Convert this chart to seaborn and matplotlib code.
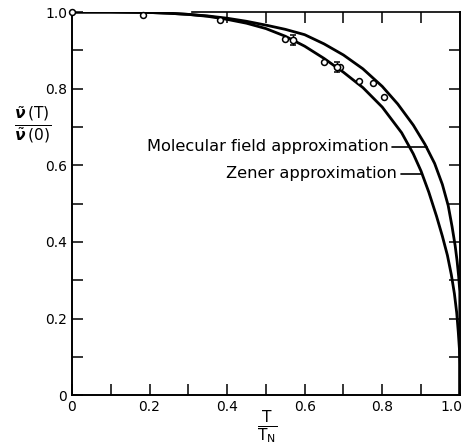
import numpy as np
import pandas as pd
import seaborn as sns
import matplotlib.pyplot as plt
from matplotlib.transforms import ScaledTranslation

# curves
mf_x = [0.0, 0.1, 0.2, 0.25, 0.3, 0.35, 0.4, 0.45, 0.5, 0.55, 0.6, 0.65, 0.7, 0.75,
        0.8, 0.84, 0.88, 0.91, 0.935, 0.955, 0.97, 0.98, 0.988, 0.993, 0.997, 1.0, 1.0]
mf_y = [1.0, 1.0, 0.999, 0.997, 0.994, 0.99, 0.984, 0.976, 0.966, 0.955, 0.941, 0.917,
        0.888, 0.852, 0.806, 0.76, 0.705, 0.655, 0.605, 0.55, 0.495, 0.44, 0.39, 0.35,
        0.31, 0.27, 0.0]
zen_x = [0.0, 0.1, 0.2, 0.25, 0.3, 0.35, 0.4, 0.45, 0.5, 0.55, 0.6, 0.65, 0.7, 0.75,
         0.8, 0.85, 0.88, 0.9, 0.92, 0.94, 0.955, 0.968, 0.978, 0.986, 0.992, 0.996,
         0.999, 1.0, 1.0]
zen_y = [1.0, 1.0, 0.999, 0.997, 0.994, 0.989, 0.981, 0.971, 0.957, 0.937, 0.911,
         0.879, 0.843, 0.803, 0.752, 0.685, 0.63, 0.585, 0.53, 0.467, 0.415, 0.365,
         0.315, 0.265, 0.215, 0.165, 0.12, 0.08, 0.0]

# measured points
pt_x = [0.0, 0.183, 0.381, 0.549, 0.649, 0.691, 0.740, 0.776, 0.804]
pt_y = [1.0, 0.992, 0.979, 0.929, 0.869, 0.856, 0.820, 0.815, 0.778]
err_x = [0.570, 0.683]
err_y = [0.927, 0.856]
err_e = [0.012, 0.013]

tick_vals = [0, 0.2, 0.4, 0.6, 0.8, 1.0]
tick_labels = ['0', '0.2', '0.4', '0.6', '0.8', '1.0']

sns.set_style('ticks', {'text.color': 'black', 'xtick.color': 'black',
                        'ytick.color': 'black', 'axes.edgecolor': 'black',
                        'axes.labelcolor': 'black'})
plt.rcParams['font.family'] = ['DejaVu Sans']
plt.rcParams['mathtext.fontset'] = 'dejavusans'

fig = plt.figure(figsize=(4.64, 4.48), dpi=100)
ax = fig.add_axes([0.155, 0.118, 0.836, 0.855])

curves = pd.concat([
    pd.DataFrame({'x': mf_x, 'y': mf_y, 'c': 'mf'}),
    pd.DataFrame({'x': zen_x, 'y': zen_y, 'c': 'zen'}),
])
sns.lineplot(data=curves, x='x', y='y', units='c', estimator=None, sort=False,
             color='black', lw=2, ax=ax)
sns.scatterplot(x=pt_x, y=pt_y, marker='o', s=18, facecolor='white',
                edgecolor='black', linewidth=1.1, ax=ax, zorder=5, clip_on=False)
ax.errorbar(err_x, err_y, yerr=err_e, fmt='o', ms=4.5, mfc='white', mec='black',
            mew=1.1, ecolor='black', elinewidth=1, capsize=2, zorder=5)

ax.set_xlim(0, 1)
ax.set_ylim(0, 1)
ax.set_xticks(tick_vals)
ax.set_xticklabels(tick_labels)
ax.set_yticks(tick_vals)
ax.set_yticklabels(tick_labels)
ax.set_xticks(np.arange(0.1, 1.0, 0.2), minor=True)
ax.set_yticks(np.arange(0.1, 1.0, 0.2), minor=True)
ax.tick_params(which='both', direction='in', length=8, width=1.1, labelsize=10,
               top=False, right=False, colors='black')
# keep the last x label inside the figure
last = ax.get_xticklabels()[-1]
last.set_transform(last.get_transform() + ScaledTranslation(-6 / 72, 0, fig.dpi_scale_trans))
ax.set_xlabel('')
ax.set_ylabel('')
for s in ['left', 'bottom']:
    ax.spines[s].set_linewidth(1.4)
    ax.spines[s].set_color('black')
ax.spines['top'].set_visible(False)
ax.spines['right'].set_visible(False)

top = ax.secondary_xaxis('top')
top.set_xticks([0.4, 0.5, 0.6, 0.7, 0.8, 0.9])
top.tick_params(direction='in', length=8, width=1.1, labeltop=False, colors='black')
top.spines['top'].set_bounds(0.31, 1.0)
top.spines['top'].set_linewidth(1.2)
top.spines['top'].set_color('black')

right = ax.secondary_yaxis('right')
right.set_yticks([0.1, 0.2, 0.3, 0.4, 0.5, 0.6, 0.7, 0.8, 0.9])
right.tick_params(direction='in', length=8, width=1.1, labelright=False, colors='black')
right.spines['right'].set_linewidth(1.4)
right.spines['right'].set_color('black')

ax.text(0.817, 0.648, 'Molecular field approximation', fontsize=11.7,
        va='center', ha='right', color='black')
ax.plot([0.826, 0.915], [0.648, 0.648], color='black', lw=1.2)
ax.text(0.838, 0.578, 'Zener approximation', fontsize=11.7,
        va='center', ha='right', color='black')
ax.plot([0.849, 0.899], [0.578, 0.578], color='black', lw=1.2)

fig.text(0.071, 0.719, r'$\frac{\tilde{\boldsymbol{\nu}}\,(\mathrm{T})}{\tilde{\boldsymbol{\nu}}\,(0)}$',
         fontsize=16, ha='center', va='center', color='black')
fig.text(0.575, 0.047, r'$\frac{\mathrm{T}}{\mathrm{T_N}}$', fontsize=16,
         ha='center', va='center', color='black')

fig.savefig('out.png', dpi=100)
